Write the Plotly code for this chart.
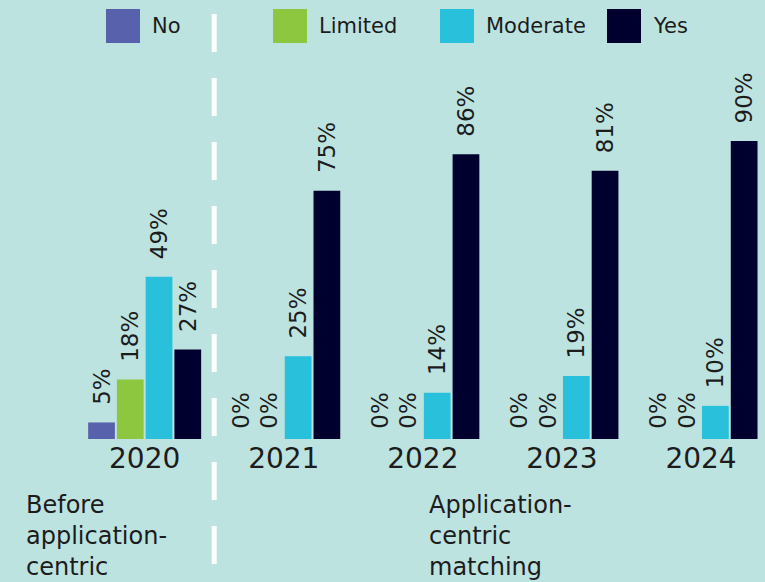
import plotly.graph_objects as go

years = ["2020", "2021", "2022", "2023", "2024"]
series_names = ["No", "Limited", "Moderate", "Yes"]
no_vals = [5, 0, 0, 0, 0]
limited_vals = [18, 0, 0, 0, 0]
moderate_vals = [49, 25, 14, 19, 10]
yes_vals = [27, 75, 86, 81, 90]
colors = ["#5861ac", "#8dc63f", "#29c0dc", "#00002e"]
before_label = "Before<br>application-<br>centric"
after_label = "Application-<br>centric<br>matching"

FONT = "DejaVu Sans"
TXT = "#1c1c1c"
BG = "#bde3e0"


def label(v):
    pad = "\u00a0\u00a0" if v > 0 else "\u00a0"
    return pad + f"{v}%"


fig = go.Figure()
for name, vals, col in zip(series_names, [no_vals, limited_vals, moderate_vals, yes_vals], colors):
    fig.add_trace(go.Bar(
        x=years, y=vals, name=name, marker_color=col, marker_line_width=0,
        text=[label(v) for v in vals],
        textposition="outside", textangle=-90, constraintext="none", cliponaxis=False,
        textfont=dict(family=FONT, size=23, color=TXT),
        showlegend=False,
    ))

# legend drawn manually (large squares)
leg_x = [106, 273, 440, 607]
W = 765
H = 582
for name, col, lx in zip(series_names, colors, leg_x):
    fig.add_shape(type="rect", xref="paper", yref="paper",
                  x0=lx / W, x1=(lx + 34) / W,
                  y0=1 - 43 / 439, y1=1 - 9 / 439,
                  fillcolor=col, line_width=0, layer="above")
    fig.add_annotation(xref="paper", yref="paper", x=(lx + 44) / W, y=1 - 26 / 439,
                       text=name, showarrow=False, xanchor="left", yanchor="middle",
                       font=dict(family=FONT, size=21, color=TXT))

# dashed divider
fig.add_shape(type="line", xref="x", yref="paper", x0=0.5, x1=0.5,
              y0=1 - 14 / 439, y1=-143 / 439,
              line=dict(color="white", width=5, dash="38px,26px"), layer="above")

fig.add_annotation(xref="paper", yref="paper", x=24 / W, y=-50 / 439, text=before_label,
                   showarrow=False, xanchor="left", yanchor="top", align="left",
                   font=dict(family=FONT, size=24, color=TXT))
fig.add_annotation(xref="paper", yref="paper", x=427 / W, y=-50 / 439, text=after_label,
                   showarrow=False, xanchor="left", yanchor="top", align="left",
                   font=dict(family=FONT, size=24, color=TXT))

fig.update_layout(
    width=W, height=H,
    margin=dict(l=0, r=0, t=0, b=143, pad=0),
    paper_bgcolor=BG, plot_bgcolor=BG,
    barmode="group", bargap=0.173, bargroupgap=0.07,
    xaxis=dict(type="category", range=[-1.04, 4.46], showgrid=False, showline=False,
               zeroline=False, ticks="", tickfont=dict(family=FONT, size=28, color=TXT)),
    yaxis=dict(range=[0, 132.6], visible=False, fixedrange=True),
)

fig.write_html("out.html", config={"displayModeBar": False},
               post_script="document.body.style.margin='0';document.body.style.overflow='hidden';")
